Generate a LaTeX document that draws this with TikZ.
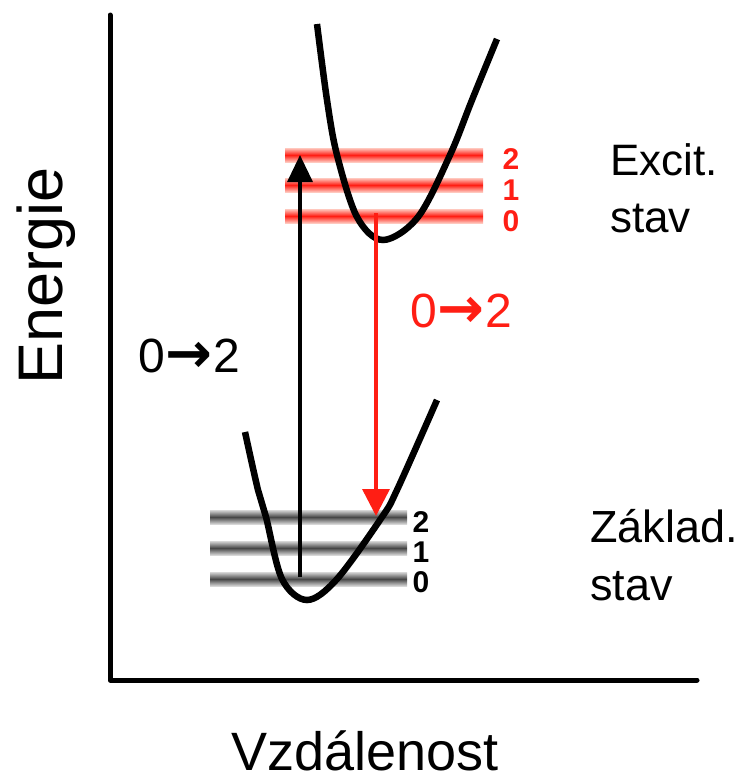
\documentclass[tikz,border=0pt]{standalone}
\usepackage{fontspec}
\setmainfont{Liberation Sans}
\newfontfamily\arrfont{DejaVu Sans}
\usetikzlibrary{arrows.meta}
\definecolor{lvred}{RGB}{255,30,20}
\definecolor{lvpink}{RGB}{255,200,190}
\definecolor{lvdark}{RGB}{70,70,70}
\definecolor{lvlight}{RGB}{215,215,215}
\tikzset{
  axisline/.style={line width=5pt, line cap=round, line join=round},
  curveline/.style={line width=6.5pt, line cap=butt},
  bigtext/.style={inner sep=0pt, anchor=base west},
  lvlab/.style={inner sep=0pt, anchor=base, font=\fontsize{30}{30}\selectfont\bfseries},
}
\newcommand{\arr}{{\hspace{1pt}\arrfont\bfseries\fontsize{56}{56}\selectfont →\hspace{1pt}}}
\begin{document}
\begin{tikzpicture}[x=1pt,y=-1pt]
\useasboundingbox (0,0) rectangle (749,782);
% axes
\coordinate (ytop) at (110,15);
\coordinate (orig) at (110,680);
\coordinate (xend) at (697,680);
\draw[axisline] (ytop) -- (orig) -- (xend);
% excited levels
\foreach \yy in {155,185,216}{
  \shade[top color=lvpink, bottom color=lvpink, middle color=lvred] (285,\yy-7) rectangle (483,\yy+7);
}
% ground levels
\foreach \yy in {517,548,579}{
  \shade[top color=lvlight, bottom color=lvlight, middle color=lvdark] (210,\yy-7) rectangle (407,\yy+7);
}
% curves
\draw[curveline] plot[smooth, tension=0.55] coordinates {(317,24) (327,100) (337,155) (357,217) (383,240) (418,217) (450,155) (472,100) (497,39)};
\draw[curveline] plot[smooth, tension=0.55] coordinates {(245,432) (258,490) (266,517) (282,579) (307,600) (337,579) (382,517) (397,490) (437,400)};
% arrows
\coordinate (absfrom) at (300,577);
\coordinate (absto) at (300,155);
\draw[line width=3.5pt, -{Triangle[width=25pt,length=27pt]}] (absfrom) -- (absto);
\coordinate (emfrom) at (376,213);
\coordinate (emto) at (376,516);
\draw[lvred, line width=3.5pt, -{Triangle[width=27pt,length=27pt]}] (emfrom) -- (emto);
% level labels
\node[lvlab, text=lvred] (e2) at (511,169) {2};
\node[lvlab, text=lvred] (e1) at (511,200) {1};
\node[lvlab, text=lvred] (e0) at (511,231) {0};
\node[lvlab] (g2) at (421,532) {2};
\node[lvlab] (g1) at (421,562) {1};
\node[lvlab] (g0) at (421,592) {0};
% texts
\node[bigtext, font=\fontsize{44}{44}\selectfont] (exc) at (610,175) {Excit.};
\node[bigtext, font=\fontsize{44}{44}\selectfont] (exc2) at (610,232) {stav};
\node[bigtext, font=\fontsize{45}{45}\selectfont] (zak) at (590,542) {Základ.};
\node[bigtext, font=\fontsize{45}{45}\selectfont] (zak2) at (590,600) {stav};
\node[bigtext, font=\fontsize{48}{48}\selectfont] (lab1) at (138,372) {0\arr2};
\node[bigtext, font=\fontsize{48}{48}\selectfont, text=lvred] (lab2) at (410,327) {0\arr2};
\node[inner sep=0pt, anchor=base, font=\fontsize{54}{54}\selectfont] (xlab) at (365,770) {Vzdálenost};
\node[inner sep=0pt, anchor=base, rotate=90, font=\fontsize{63}{63}\selectfont] (ylab) at (62,276) {Energie};
\end{tikzpicture}
\end{document}
